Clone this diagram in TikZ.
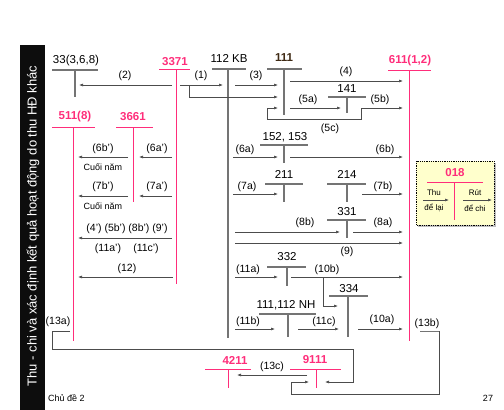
\documentclass[tikz,border=0pt]{standalone}
\usepackage{fontspec}
\setmainfont{Liberation Sans}
\usetikzlibrary{arrows.meta}
\definecolor{pk}{HTML}{FF2D7A}
\definecolor{tg}{HTML}{747474}
\definecolor{ylw}{HTML}{FFFFCC}
\definecolor{brn}{HTML}{3F2A14}
\begin{document}
\begin{tikzpicture}[x=1pt,y=-1pt,
 tl/.style={line width=1.3pt,draw=tg},
 pl/.style={line width=1pt,draw=pk},
 ar/.style={line width=0.6pt,draw=black!70,-{Latex[length=4pt,width=3pt]}},
 ln/.style={line width=0.6pt,draw=black!70},
 lb/.style={font=\fontsize{10.5}{12}\selectfont,inner sep=0},
 ac/.style={font=\fontsize{11.5}{13}\selectfont,inner sep=0},
 mac/.style={font=\fontsize{11.5}{13}\selectfont\bfseries,text=pk,inner sep=0},
 sm/.style={font=\fontsize{9}{10}\selectfont,inner sep=0},
 bx/.style={font=\fontsize{8}{9}\selectfont,inner sep=0}]
\useasboundingbox (0,0) rectangle (504,410);
% side bar
\fill[black!95] (20,45) rectangle (45,410);
\node[rotate=90,text=white,font=\fontsize{13}{15}\selectfont,inner sep=0] (title) at (33,226) {Thu - chi và xác định kết quả hoạt động do thu HĐ khác};
% accounts
\node[ac] (a33) at (76,61) {33(3,6,8)};
\draw[tl] (52,70)--(98,70) (75,70)--(75,97);
\node[mac] (a3371) at (175,62) {3371};
\draw[pl] (159,69)--(190,69) (176,69)--(176,284);
\node[ac] (a112) at (229,58) {112 KB};
\draw[tl] (212,69)--(246,69) (228,69)--(228,338);
\node[ac,font=\fontsize{11.5}{13}\selectfont\bfseries,text=brn] (a111) at (284,58) {111};
\draw[tl] (267,69)--(302,69) (284,69)--(284,115);
\node[ac] (a141) at (347,89) {141};
\draw[tl] (328,97)--(366,97) (347,97)--(347,113);
\node[mac] (a611) at (410,61) {611(1,2)};
\draw[pl] (388,70)--(431,70) (409,70)--(409,341);
\node[ac] (a152) at (285,137) {152, 153};
\draw[tl] (260,145)--(308,145) (284,145)--(284,163);
\node[ac] (a211) at (284,174) {211};
\draw[tl] (265,184)--(303,184) (284,184)--(284,202);
\node[ac] (a214) at (347,174) {214};
\draw[tl] (327,184)--(366,184) (347,184)--(347,202);
\node[ac] (a331) at (347,212) {331};
\draw[tl] (327,220)--(366,220) (347,220)--(347,238);
\node[ac] (a332) at (287,257) {332};
\draw[tl] (267,267)--(306,267) (287,267)--(287,286);
\node[ac] (a334) at (349,289) {334};
\draw[tl] (329,296)--(368,296) (348,296)--(348,337);
\node[ac] (anh) at (286,305) {111,112 NH};
\draw[tl] (259,314)--(316,314) (288,314)--(288,337);
\node[mac] (a511) at (75,117) {511(8)};
\draw[pl] (52,127)--(95,127) (73,127)--(73,341);
\node[mac] (a3661) at (133,117) {3661};
\draw[pl] (116,127)--(153,127) (133,127)--(133,202);
\node[mac] (a4211) at (235,360) {4211};
\draw[pl] (205,369)--(251,369) (228,369)--(228,388);
\node[mac] (a9111) at (315,360) {9111};
\draw[pl] (290,369)--(341,369) (316,369)--(316,388);
% arrows upper
\draw[ar] (172,85)--(79,85); \node[lb] (l2) at (125,76) {(2)};
\draw[ar] (180,85)--(223,85); \node[lb] (l1) at (201,76) {(1)};
\draw[ar] (189,85)--(189,97)--(278,97);
\draw[ar] (235,85)--(278,85); \node[lb] (l3) at (256,76) {(3)};
\draw[ar] (290,81)--(403,81); \node[lb] (l4) at (346,72) {(4)};
\draw[ar] (290,108)--(341,108); \node[lb] (l5a) at (308,100) {(5a)};
\draw[ar] (361,108)--(403,108); \node[lb] (l5b) at (380,100) {(5b)};
\draw[ar] (361,108)--(361,119)--(267,119)--(267,108)--(278,108);
\node[lb] (l5c) at (330,129) {(5c)};
\draw[ar] (233,157)--(278,157); \node[lb] (l6a) at (245,150) {(6a)};
\draw[ar] (290,157)--(403,157); \node[lb] (l6b) at (385,150) {(6b)};
\draw[ar] (233,194)--(278,194); \node[lb] (l7a) at (247,187) {(7a)};
\draw[ar] (362,194)--(403,194); \node[lb] (l7b) at (383,187) {(7b)};
\draw[ar] (235,232)--(340,232); \node[lb] (l8b) at (305,223) {(8b)};
\draw[ar] (353,232)--(403,232); \node[lb] (l8a) at (383,223) {(8a)};
\draw[ar] (235,243)--(403,243); \node[lb] (l9) at (347,252) {(9)};
\draw[ar] (235,277)--(278,277); \node[lb] (l11a) at (248,270) {(11a)};
\draw[ar] (291,277)--(403,277); \node[lb] (l10b) at (327,270) {(10b)};
\draw[ar] (323,277)--(323,306)--(338,306);
\draw[ar] (235,329)--(275,329); \node[lb] (l11b) at (248,322) {(11b)};
\draw[ar] (298,329)--(339,329); \node[lb] (l11c) at (324,322) {(11c)};
\draw[ar] (358,329)--(403,329); \node[lb] (l10a) at (382,320) {(10a)};
\node[lb] (l13b) at (427,324) {(13b)};
\draw[tl,line width=1pt] (420,331)--(439,331);
\draw[ar] (439,331)--(439,394)--(291,394)--(291,382)--(309,382);
\draw[ar] (307,375)--(237,375); \node[lb] (l13c) at (272,367) {(13c)};
\node[lb] (l13a) at (58,322) {(13a)};
\draw[ar] (70,331)--(52,331)--(52,349)--(353,349)--(353,382)--(325,382);
% left side
\draw[ar] (128,157)--(78,157); \node[lb] (l6bp) at (103,149) {(6b')};
\node[sm] (cn1) at (103,167) {Cuối năm};
\draw[ar] (172,157)--(139,157); \node[lb] (l6ap) at (157,149) {(6a')};
\draw[ar] (128,196)--(78,196); \node[lb] (l7bp) at (103,187) {(7b')};
\node[sm] (cn2) at (103,206) {Cuối năm};
\draw[ar] (172,196)--(139,196); \node[lb] (l7ap) at (157,187) {(7a')};
\node[lb] (l4p) at (127,229) {(4') (5b') (8b') (9')};
\draw[ar] (172,238)--(78,238);
\node[lb] (l11ap) at (108,249) {(11a')};
\node[lb] (l11cp) at (146,249) {(11c')};
\draw[ar] (173,277)--(78,277); \node[lb] (l12) at (127,269) {(12)};
% 018 box
\fill[black!25] (418,163) rectangle (496,227);
\draw[densely dotted,line width=0.8pt,fill=ylw] (416,161) rectangle (494,225);
\node[mac] (a018) at (455,173) {018};
\draw[pl] (427,182)--(483,182) (454,182)--(454,220);
\node[bx] (thu) at (434,193) {Thu};
\draw[ar] (423,200)--(449,200);
\node[bx] (dl) at (434,208) {để lại};
\node[bx] (rut) at (475,193) {Rút};
\draw[ar] (463,200)--(492,200);
\node[bx] (dc) at (475,208) {để chi};
% footer
\node[sm,anchor=west] (foot) at (48,398) {Chủ đề 2};
\node[sm] (pg) at (488,398) {27};
\end{tikzpicture}
\end{document}
